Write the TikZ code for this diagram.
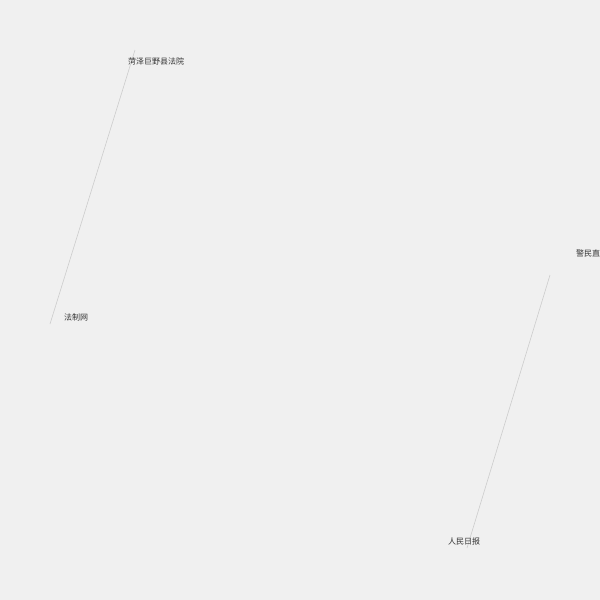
\documentclass[tikz,border=0pt]{standalone}
\usepackage{fontspec}
\newfontfamily\cjk{Noto Sans CJK SC}
\definecolor{bg}{HTML}{F0F0F0}
\definecolor{edgec}{HTML}{CCCCCC}
\definecolor{txt}{HTML}{333333}
\begin{document}
\begin{tikzpicture}[x=1pt,y=-1pt,
  lbl/.style={font=\cjk\fontsize{8}{9}\selectfont, text=txt, inner sep=0pt},
  edge/.style={draw=edgec, line width=0.6pt}]
\fill[bg] (0,0) rectangle (600,600);
\useasboundingbox (0,0) rectangle (600,600);
\clip (0,0) rectangle (600,600);
\coordinate (a) at (135,50);
\coordinate (b) at (50,324);
\coordinate (c) at (550,275);
\coordinate (d) at (467,548);
\draw[edge] (a) -- (b);
\draw[edge] (c) -- (d);
\node[lbl] (la) at (156,61) {菏泽巨野县法院};
\node[lbl] (lb) at (76,317) {法制网};
\node[lbl, anchor=west] (lc) at (576,253) {警民直};
\node[lbl] (ld) at (464,541) {人民日报};
\end{tikzpicture}
\end{document}
